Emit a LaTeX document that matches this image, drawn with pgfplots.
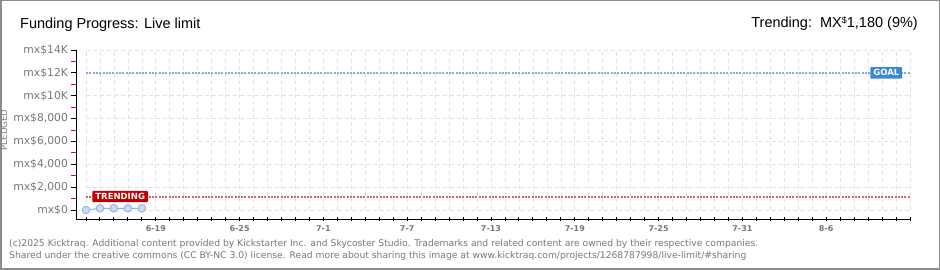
\documentclass[border=0pt]{standalone}
\usepackage{pgfplots}
\pgfplotsset{compat=1.18}
\usepackage{fontspec}
\setmainfont{DejaVu Sans}
\newfontfamily\titlefont{Liberation Sans}
\definecolor{gridgray}{RGB}{225,225,225}
\definecolor{labgray}{RGB}{120,120,120}
\definecolor{goalline}{RGB}{135,172,222}
\definecolor{goalbox}{RGB}{58,135,216}
\definecolor{trendline}{RGB}{215,100,100}
\definecolor{trendbox}{RGB}{192,0,0}
\definecolor{ptfill}{RGB}{200,220,245}
\definecolor{ptline}{RGB}{140,175,225}
\definecolor{frame}{RGB}{140,140,140}
\begin{document}
\begin{tikzpicture}[x=1pt,y=1pt]
\useasboundingbox (0,0) rectangle (940,270);
\fill[white] (0,0) rectangle (940,270);
\draw[frame, line width=1.5pt] (0.75,0.75) rectangle (939.25,269.25);
% titles
\node[anchor=base west, inner sep=0pt, font=\titlefont\fontsize{14.5}{16}\selectfont] at (20,241) {Funding Progress: Live limit};
\node[anchor=base east, inner sep=0pt, font=\titlefont\fontsize{14.5}{16}\selectfont] at (918,242) {Trending:\ \ MX\raisebox{4pt}{\fontsize{9}{10}\selectfont\$}1,180 (9\%)};
% footer
\node[anchor=base west, inner sep=0pt, text=labgray, font=\fontsize{9.2}{10}\selectfont] at (9,23) {(c)2025 Kicktraq. Additional content provided by Kickstarter Inc. and Skycoster Studio. Trademarks and related content are owned by their respective companies.};
\node[anchor=base west, inner sep=0pt, text=labgray, font=\fontsize{9.2}{10}\selectfont] at (9,11) {Shared under the creative commons (CC BY-NC 3.0) license. Read more about sharing this image at www.kicktraq.com/projects/1268787998/live-limit/\#sharing};
\node[rotate=90, text=labgray, font=\fontsize{8.5}{9}\selectfont, inner sep=0pt] at (4,140) {PLEDGED};
% main axis: lines, ticks, labels
\begin{axis}[
  at={(76pt,51pt)}, anchor=south west,
  scale only axis, width=834pt, height=169pt,
  xmin=-0.714, xmax=59, ymin=-787.5, ymax=14000,
  scaled ticks=false,
  axis lines=left, axis line style={-, black, line width=0.9pt},
  tick align=outside,
  xtick={5,11,17,23,29,35,41,47,53},
  xticklabels={6-19,6-25,7-1,7-7,7-13,7-19,7-25,7-31,8-6},
  minor xtick={0,...,59},
  ytick={0,2000,4000,6000,8000,10000,12000,14000},
  yticklabels={{mx\$0},{mx\$2,000},{mx\$4,000},{mx\$6,000},{mx\$8,000},{mx\$10K},{mx\$12K},{mx\$14K}},
  minor ytick={1000,3000,5000,7000,9000,11000,13000},
  major tick length=4.5pt, minor tick length=4.5pt,
  x tick style={black, line width=0.9pt, yshift=2.3pt},
  minor y tick style={red, line width=0.9pt},
  major y tick style={black, line width=0.9pt},
  ticklabel style={text=labgray, font=\fontsize{10.8}{12}\selectfont},
  xticklabel style={font=\bfseries\fontsize{8}{10}\selectfont, yshift=1pt},
]
\end{axis}
% grid and data axis
\begin{axis}[
  at={(86pt,60pt)}, anchor=south west,
  scale only axis, width=824pt, height=160pt,
  xmin=0, xmax=59, ymin=0, ymax=14000,
  scaled ticks=false,
  clip=false,
  axis line style={draw=none}, tick style={draw=none},
  xtick={0,...,59}, ytick={0,2000,4000,6000,8000,10000,12000,14000},
  xticklabels={}, yticklabels={},
  grid=major, grid style={gridgray, dash pattern=on 4pt off 3pt, line width=0.7pt},
]
\addplot[goalline, line width=2pt, dash pattern=on 2pt off 1.3pt] coordinates {(0,12000) (59,12000)};
\addplot[trendline, line width=2pt, dash pattern=on 2pt off 1.3pt] coordinates {(0,1180) (59,1180)};
\addplot[ptline, line width=1pt, mark=*, mark size=3.8pt, mark options={fill=ptfill, draw=ptline, line width=0.8pt}] coordinates {(0,0) (1,150) (2,150) (3,150) (4,150)};
\node[fill=goalbox, text=white, font=\bfseries\fontsize{8.5}{9}\selectfont, inner xsep=3pt, inner ysep=2.5pt, rounded corners=1pt] at (axis cs:57.3,12000) {GOAL};
\node[fill=trendbox, text=white, font=\bfseries\fontsize{8.5}{9}\selectfont, inner xsep=3pt, inner ysep=2.5pt, rounded corners=1pt] at (axis cs:2.45,1180) {TRENDING};
\end{axis}
\end{tikzpicture}
\end{document}
